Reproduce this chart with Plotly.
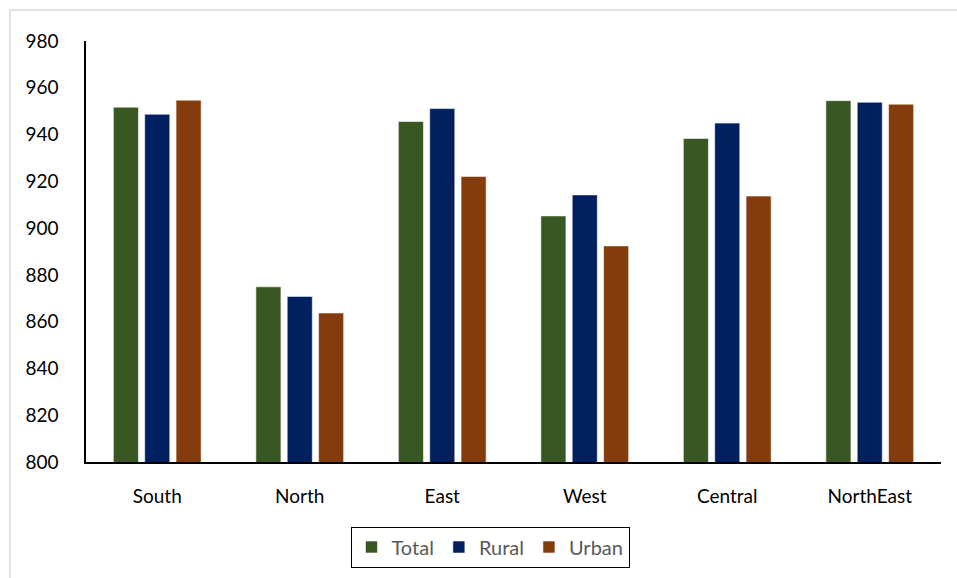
import plotly.graph_objects as go

categories = ["South", "North", "East", "West", "Central", "NorthEast"]
total = [951.7, 874.9, 945.6, 905.2, 938.3, 954.5]
rural = [948.7, 870.8, 951.1, 914.2, 944.9, 953.8]
urban = [954.7, 863.7, 922.1, 892.4, 913.7, 953.0]
y_ticks = [800, 820, 840, 860, 880, 900, 920, 940, 960, 980]

series = [("Total", total, "#385723"), ("Rural", rural, "#002060"), ("Urban", urban, "#843C0C")]

fig = go.Figure()
for name, vals, col in series:
    fig.add_trace(go.Bar(
        x=categories, y=vals, name=name,
        marker=dict(color=col, line=dict(color="rgba(255,255,255,0.55)", width=1)),
    ))

W, H = 957, 578
L, R, T, B = 86, 16, 41, 115
pw, ph = W - L - R, H - T - B

def px2x(p):
    return (p - L) / pw

def py2y(p):
    return (H - B - p) / ph

fig.update_layout(
    width=W, height=H,
    margin=dict(l=L, r=R, t=T, b=B),
    plot_bgcolor="white", paper_bgcolor="white",
    barmode="group", bargap=0.34, bargroupgap=0.2,
    font=dict(family="Lato, 'Open Sans', sans-serif", size=19, color="#000000"),
    showlegend=True,
    legend=dict(
        orientation="h", x=px2x(490), y=py2y(547), xanchor="center", yanchor="middle",
        bordercolor="#000000", borderwidth=1, bgcolor="white",
        font=dict(size=20, color="#595959"), itemwidth=30,
    ),
    xaxis=dict(
        showline=True, linecolor="#000000", linewidth=2, ticks="",
        showgrid=False, ticklabelstandoff=16, tickfont=dict(size=19, color="#000000"),
    ),
    yaxis=dict(
        range=[800, 980], tickvals=y_ticks, ticktext=[str(v) for v in y_ticks],
        showline=True, linecolor="#000000", linewidth=1.5, ticks="",
        showgrid=False, zeroline=False, ticklabelstandoff=22,
        tickfont=dict(size=19, color="#000000"),
    ),
    shapes=[dict(
        type="rect", xref="paper", yref="paper",
        x0=px2x(10), x1=px2x(975), y0=py2y(595), y1=py2y(10),
        line=dict(color="#D9D9D9", width=1.5), fillcolor="rgba(0,0,0,0)", layer="below",
    )],
)

fig.write_html("out.html")
